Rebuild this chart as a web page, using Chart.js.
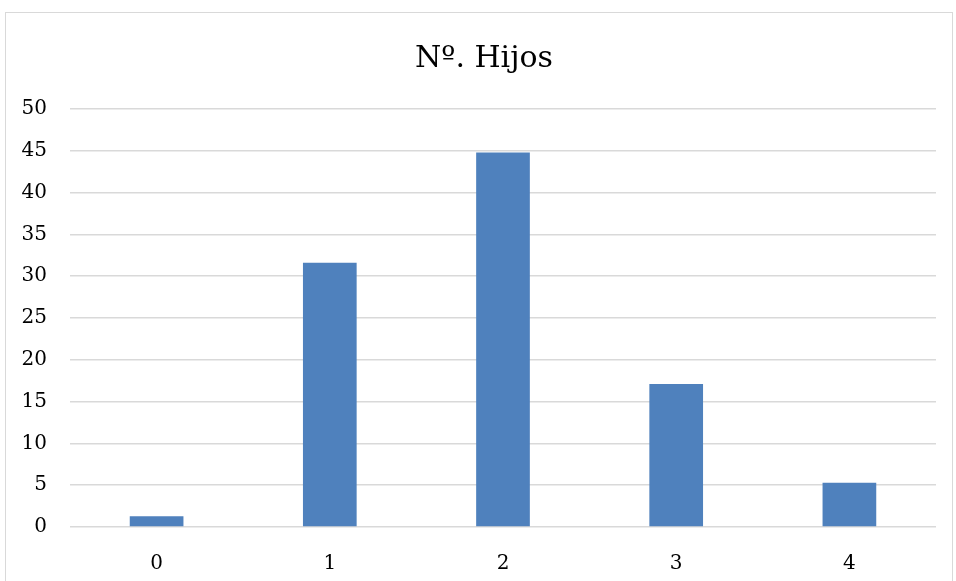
<!DOCTYPE html>
<html>
<head>
<meta charset="utf-8">
<script src="https://cdn.jsdelivr.net/npm/chart.js@4/dist/chart.umd.min.js"></script>
<style>
    body { margin: 0; background: #fff; }
    #frame { position: absolute; left: 5px; top: 12px; width: 946px; height: 600px; border: 1px solid #d9d9d9; }
    /* canvas starts a bit to the right so the centred title lands where the original has it */
    #wrap { position: absolute; left: 12px; top: 0; width: 944px; height: 581px; }
</style>
</head>
<body>
<div id="frame"></div>
<div id="wrap"><canvas id="chart"></canvas></div>
<script>
// Number of children
const categories = ['0', '1', '2', '3', '4'];
const values = [1.3, 31.6, 44.8, 17.1, 5.3];
const yTicks = [0, 5, 10, 15, 20, 25, 30, 35, 40, 45, 50];

const fontFamily = '"DejaVu Serif", "Liberation Serif", serif';

const ctx = document.getElementById('chart').getContext('2d');
new Chart(ctx, {
    type: 'bar',
    data: {
        labels: categories,
        datasets: [{
            label: 'Nº. Hijos',
            data: values,
            backgroundColor: '#4f81bd',
            borderWidth: 0,
            categoryPercentage: 1,
            barPercentage: 0.31
        }]
    },
    options: {
        responsive: true,
        maintainAspectRatio: false,
        animation: false,
        layout: { padding: 0 },
        plugins: {
            legend: { display: false },
            tooltip: { enabled: false },
            title: {
                display: true,
                text: 'Nº. Hijos',
                color: '#000',
                font: { family: fontFamily, size: 30, weight: 'normal' },
                padding: { top: 41, bottom: 32 }
            }
        },
        scales: {
            x: {
                grid: { display: false },
                border: { display: false },
                ticks: {
                    color: '#000',
                    font: { family: fontFamily, size: 20 },
                    padding: 17
                },
                afterFit: function(scale) { scale.height = 54; }
            },
            y: {
                min: 0,
                max: 50,
                afterBuildTicks: function(scale) {
                    scale.ticks = yTicks.map(v => ({ value: v }));
                },
                grid: { color: '#d9d9d9', lineWidth: 1.5, drawTicks: false },
                border: { display: false },
                ticks: {
                    color: '#000',
                    font: { family: fontFamily, size: 20 },
                    padding: 23
                },
                afterFit: function(scale) { scale.width = 58; }
            },
            // empty right axis, only keeps a margin right of the plot
            yRight: {
                type: 'linear',
                position: 'right',
                grid: { display: false },
                border: { display: false },
                ticks: { display: false },
                afterFit: function(scale) { scale.width = 20; }
            }
        }
    }
});
</script>
</body>
</html>
